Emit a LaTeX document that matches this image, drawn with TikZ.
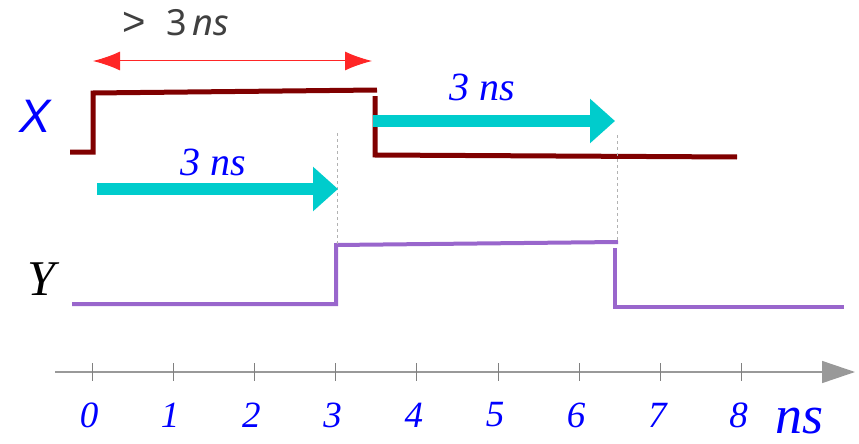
\documentclass[tikz,border=0pt]{standalone}
\usepackage{fontspec}
\setmainfont{Liberation Serif}
\newfontfamily\xfont{Liberation Sans}
\newfontfamily\notefont{Noto Sans}
\usetikzlibrary{arrows.meta}
\definecolor{xred}{HTML}{800000}
\definecolor{ypurple}{HTML}{9966CC}
\definecolor{shiftcyan}{HTML}{00CCCC}
\definecolor{notegray}{HTML}{404040}
\tikzset{
    sigx/.style={draw=xred,line width=5pt},
    sigy/.style={draw=ypurple,line width=4pt},
    delay/.style={draw=shiftcyan,line width=12pt,-{Triangle[length=25pt,width=43pt]}},
    delaylbl/.style={text=blue,font=\fontsize{40}{40}\selectfont\itshape},
    guide/.style={draw=gray!60,line width=0.8pt,dash pattern=on 3pt off 3pt},
    ticklbl/.style={text=blue,font=\fontsize{37}{37}\selectfont\itshape},
}
\begin{document}
\begin{tikzpicture}[x=1pt,y=-1pt]
    \useasboundingbox (0,0) rectangle (859,444);

    % time axis
    \coordinate (ax0) at (55,372);
    \coordinate (ax1) at (855,372);
    \draw[draw=gray!80,line width=1.5pt,-{Triangle[length=33pt,width=22pt]}] (ax0) -- (ax1);
    \foreach \i in {0,...,8}{
        \draw[draw=gray,line width=0.8pt] (92+81.2*\i,363) -- ++(0,18);
        \node[ticklbl] (t\i) at (89+81.2*\i,415) {\i};
    }
    \node[text=blue,font=\fontsize{54}{54}\selectfont\itshape,inner sep=0pt] (unit) at (799,421) {ns};

    % signal labels
    \node[text=blue,font=\xfont\fontsize{47}{47}\selectfont\itshape] (labx) at (35,116) {X};
    \node[font=\fontsize{50}{50}\selectfont\itshape] (laby) at (41,279) {Y};

    % signal X
    \draw[sigx] (70,152) -- (93,152) -- (93,93) -- (377,90);
    \draw[sigx] (375,96) -- (375,155) -- (737,157);

    % signal Y
    \draw[sigy] (72,304) -- (336,304) -- (336,245) -- (618,242);
    \draw[sigy] (615,248) -- (615,307) -- (844,307);

    % guide lines
    \draw[guide] (337,133) -- (337,245);
    \draw[guide] (617,135) -- (617,242);

    % pulse width
    \coordinate (w0) at (93,61);
    \coordinate (w1) at (372,61);
    \draw[draw=red!85,line width=1pt,{Latex[length=27pt,width=19pt]}-{Latex[length=27pt,width=19pt]}] (w0) -- (w1);
    \node[text=notegray,font=\notefont\fontsize{36}{36}\selectfont] (wlbl) at (176,23) {{\xfont\fontsize{40}{40}\selectfont >}\hspace{20pt}3\,\textit{ns}};

    % delays
    \coordinate (d0) at (97,189);
    \coordinate (d1) at (338,189);
    \draw[delay] (d0) -- (d1);
    \node[delaylbl] (dlbl) at (213,162) {3 ns};
    \coordinate (e0) at (373,121);
    \coordinate (e1) at (615,121);
    \draw[delay] (e0) -- (e1);
    \node[delaylbl] (elbl) at (482,87) {3 ns};
\end{tikzpicture}
\end{document}
